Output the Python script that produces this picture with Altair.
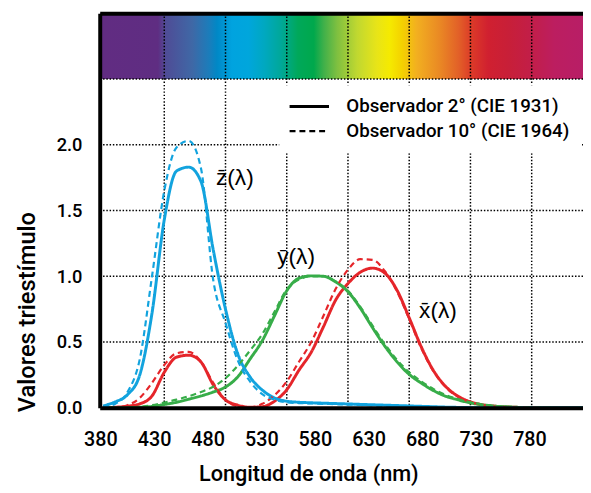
import altair as alt
import pandas as pd

FONT = "Roboto"
LFONT = "Liberation Sans"
WEIGHT = 500

# ---------------- data ----------------
wavelengths = list(range(380, 790, 10))

x_2deg = [0.0, 0.004, 0.012, 0.03, 0.09, 0.27, 0.385, 0.40, 0.348, 0.175,
          0.06, 0.02, 0.004, 0.008, 0.05, 0.137, 0.286, 0.423, 0.617, 0.82,
          0.945, 1.03, 1.062, 1.025, 0.895, 0.684, 0.46, 0.28, 0.16, 0.087,
          0.045, 0.023, 0.012, 0.006, 0.003, 0.0015, 0.0007, 0.0003, 0.0002, 0.0001, 0.0]
y_2deg = [0.0, 0.0, 0.001, 0.004, 0.01, 0.025, 0.042, 0.065, 0.09, 0.12,
          0.158, 0.235, 0.37, 0.51, 0.70, 0.89, 0.985, 1.003, 1.0, 0.957,
          0.883, 0.759, 0.61, 0.47, 0.35, 0.254, 0.187, 0.13, 0.087, 0.06,
          0.037, 0.022, 0.012, 0.007, 0.003, 0.0015, 0.0007, 0.0003, 0.0, 0.0, 0.0]
z_2deg = [0.015, 0.045, 0.10, 0.25, 0.72, 1.43, 1.80, 1.83, 1.72, 1.20,
          0.75, 0.41, 0.235, 0.135, 0.075, 0.05, 0.042, 0.038, 0.035, 0.032,
          0.029, 0.026, 0.023, 0.02, 0.017, 0.014, 0.011, 0.008, 0.005, 0.003,
          0.001, 0.0, 0.0, 0.0, 0.0, 0.0, 0.0, 0.0, 0.0, 0.0, 0.0]

x_10deg = [0.0, 0.003, 0.02, 0.075, 0.19, 0.325, 0.415, 0.425, 0.35, 0.19,
           0.06, 0.012, 0.003, 0.03, 0.095, 0.2, 0.35, 0.5, 0.7, 0.905,
           1.05, 1.13, 1.125, 1.04, 0.885, 0.675, 0.45, 0.275, 0.155, 0.083,
           0.042, 0.021, 0.01, 0.005, 0.002, 0.001, 0.0005, 0.0002, 0.0001, 0.0, 0.0]
y_10deg = [0.0, 0.0, 0.002, 0.008, 0.02, 0.04, 0.062, 0.088, 0.12, 0.16,
           0.225, 0.32, 0.435, 0.56, 0.73, 0.9, 0.975, 1.0, 1.0, 0.96,
           0.89, 0.77, 0.625, 0.485, 0.365, 0.27, 0.2, 0.142, 0.097, 0.066,
           0.042, 0.025, 0.014, 0.008, 0.004, 0.002, 0.001, 0.0004, 0.0, 0.0, 0.0]
z_10deg = [0.005, 0.03, 0.12, 0.37, 1.0, 1.65, 1.98, 2.03, 1.82, 0.97,
           0.645, 0.36, 0.2, 0.104, 0.062, 0.042, 0.036, 0.033, 0.03, 0.027,
           0.024, 0.021, 0.018, 0.015, 0.012, 0.01, 0.008, 0.006, 0.004, 0.002,
           0.001, 0.0, 0.0, 0.0, 0.0, 0.0, 0.0, 0.0, 0.0, 0.0, 0.0]

curve_names = ["x", "y", "z"]
curve_colors = ["#e5252a", "#37ad49", "#12a3de"]
obs_labels = ["Observador 2° (CIE 1931)", "Observador 10° (CIE 1964)"]

# curve annotations
label_text = ["x\u0304(\u03bb)", "y\u0304(\u03bb)", "z\u0304(\u03bb)"]
label_nm = [653.5, 537.6, 487.6]
label_val = [0.739, 1.149, 1.746]

# axes / grid
x_domain = [377.3, 771.9]          # wavelength range of the curves
x_label_domain = [379.36, 829.9]   # range of the printed tick labels
x_tick_labels = [380, 430, 480, 530, 580, 630, 680, 730, 780]
grid_x = [430, 480, 530, 580, 630, 680, 730]
grid_y = [0.5, 1.0, 1.5, 2.0, 2.5]
y_ticks = [0.0, 0.5, 1.0, 1.5, 2.0]

# spectrum band
spec_band = [2.5, 3.0]
spec_nm = [380.5, 424.8, 431.2, 452.9, 466.6, 473.1, 485.2, 498.9, 511.8, 525.5,
           539.2, 552.1, 560.1, 571.4, 587.5, 603.6, 614.1, 624.6, 635.8, 654.3,
           670.4, 680.9, 694.6, 710.7, 729.2, 748.6, 771.1]
spec_colors = ["#612c82", "#5f2d82", "#4f4c96", "#3f68a6", "#1b7dbb", "#0088c6",
               "#00a3df", "#00a6dc", "#00a8c0", "#00a898", "#00a85a", "#00a84c",
               "#3fb04a", "#80c040", "#c0d830", "#e8e418", "#f5ea00", "#f4d000",
               "#f2b020", "#ea8a24", "#e26028", "#dc3a28", "#d02030", "#c81f38",
               "#c21e48", "#bc1e60", "#b81e66"]

# ---------------- tables ----------------
rows = []
for obs, series in zip(obs_labels, [(x_2deg, y_2deg, z_2deg), (x_10deg, y_10deg, z_10deg)]):
    for name, vals in zip(curve_names, series):
        for w, v in zip(wavelengths, vals):
            rows.append({"nm": w, "val": v, "curve": name, "obs": obs})
df = pd.DataFrame(rows)

span = x_domain[1] - x_domain[0]
stops = [alt.GradientStop(offset=min(1.0, max(0.0, (n - x_domain[0]) / span)), color=c)
         for n, c in zip(spec_nm, spec_colors)]
grad = alt.Gradient(gradient="linear", stops=stops, x1=0, x2=1, y1=0, y2=0)


def xs():
    return alt.Scale(domain=x_domain, nice=False, zero=False)


yscale = alt.Scale(domain=[0, 3.0], nice=False, zero=True)

yaxis = alt.Axis(orient="left", values=y_ticks, format=".1f", title="Valores triestímulo",
                 grid=False, ticks=False, tickSize=0, domain=True,
                 domainColor="black", domainWidth=4,
                 labelFont=FONT, labelFontSize=18.5, labelFontWeight=WEIGHT,
                 labelPadding=18, labelColor="black",
                 titleFont=FONT, titleFontSize=24, titleFontWeight=WEIGHT,
                 titleColor="black", titleX=-66.5, titleY=302.5, titleAngle=270,
                 titleBaseline="alphabetic", titleAlign="center", zindex=1)

spectrum = alt.Chart(pd.DataFrame({"a": [x_domain[0]], "b": [x_domain[1]],
                                   "lo": [spec_band[0]], "hi": [spec_band[1]]})).mark_rect(
    fill=grad, clip=True).encode(
    x=alt.X("a:Q", scale=xs(),
            axis=alt.Axis(orient="top", labels=False, ticks=False, grid=False, domain=True,
                          domainColor="black", domainWidth=4, title="", zindex=1)),
    x2="b:Q",
    y=alt.Y("lo:Q", scale=yscale, axis=yaxis),
    y2="hi:Q",
)

dots = dict(color="black", strokeWidth=1.5, strokeDash=[1.5, 1.8])
gx = alt.Chart(pd.DataFrame({"g": grid_x})).mark_rule(**dots).encode(
    x=alt.X("g:Q", scale=xs(), axis=None))
gy = alt.Chart(pd.DataFrame({"g": grid_y})).mark_rule(**dots).encode(
    y=alt.Y("g:Q", scale=yscale, axis=yaxis))

lines = alt.Chart(df).mark_line(interpolate="monotone", clip=True).encode(
    x=alt.X("nm:Q", scale=xs(), axis=None),
    y=alt.Y("val:Q", scale=yscale, axis=yaxis),
    color=alt.Color("curve:N", scale=alt.Scale(domain=curve_names, range=curve_colors), legend=None),
    strokeDash=alt.StrokeDash("obs:N", scale=alt.Scale(domain=obs_labels, range=[[1, 0], [6, 4]]),
                              legend=alt.Legend(title=None, orient="none", legendX=182, legendY=73,
                                                fillColor="white", padding=12,
                                                symbolType="M-4,0H4", symbolSize=100, symbolOffset=9,
                                                symbolStrokeColor="black", symbolStrokeWidth=2.5,
                                                labelFont=FONT, labelFontSize=19,
                                                labelFontWeight=WEIGHT, labelColor="black",
                                                labelOffset=28, labelLimit=400, rowPadding=5)),
    strokeWidth=alt.StrokeWidth("obs:N", scale=alt.Scale(domain=obs_labels, range=[3, 2.2]), legend=None),
    order=alt.Order("obs:N"),
)

texts = alt.Chart(pd.DataFrame({"t": label_text, "nm": label_nm, "v": label_val})).mark_text(
    font=LFONT, fontSize=23, color="black", align="center", baseline="middle").encode(
    x=alt.X("nm:Q", scale=xs(), axis=None),
    y=alt.Y("v:Q", scale=yscale, axis=yaxis),
    text="t:N",
)

tick_layer = alt.Chart(pd.DataFrame({"t": x_tick_labels})).mark_point(opacity=0).encode(
    x=alt.X("t:Q", scale=alt.Scale(domain=x_label_domain, nice=False, zero=False),
            axis=alt.Axis(values=x_tick_labels, format="d", orient="bottom",
                          title="Longitud de onda (nm)", grid=False, ticks=False, tickSize=0,
                          domain=True, domainColor="black", domainWidth=4,
                          labelFont=FONT, labelFontSize=20, labelFontWeight=WEIGHT,
                          labelPadding=38.3,
                          labelBaseline="alphabetic", labelColor="black",
                          labelFlush=False, labelOverlap=False,
                          titleFont=FONT, titleFontSize=22, titleFontWeight=WEIGHT,
                          titleColor="black", titleX=211.5, titleY=73.8,
                          titleBaseline="alphabetic", titleAlign="center", zindex=1)),
)

chart = alt.layer(spectrum, gx, gy, lines, texts, tick_layer).resolve_scale(
    x="independent").properties(
    width=490, height=400,
    padding={"left": 93, "top": 2, "right": 0, "bottom": 79},
    autosize=alt.AutoSizeParams(type="none"),
    background="white",
).configure_view(stroke=None)

chart.save("out.html", embed_options={"renderer": "svg", "actions": False})
